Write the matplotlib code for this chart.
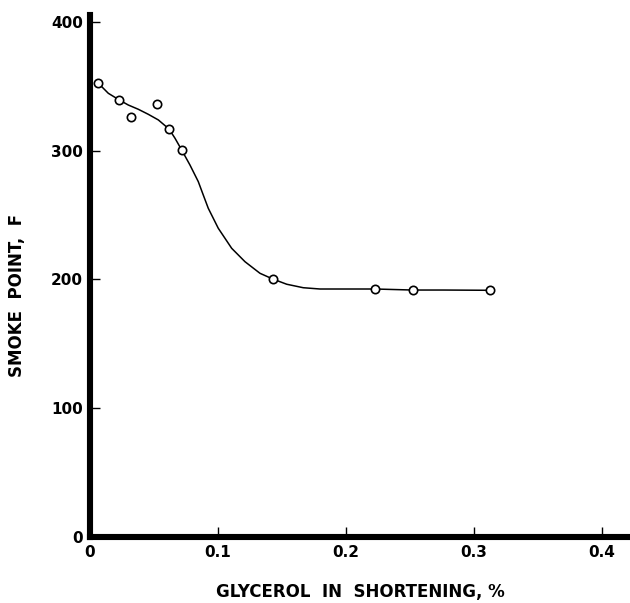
import matplotlib
matplotlib.use("Agg")
import matplotlib.pyplot as plt

# measured points (glycerol %, smoke point F)
glycerol = [0.0065, 0.0229, 0.032, 0.0526, 0.0617, 0.0716, 0.1427, 0.2227, 0.2521, 0.3125]
smoke_point = [352.4, 339.4, 326.5, 336.1, 316.9, 300.6, 200.4, 192.6, 191.8, 191.6]

# hand drawn curve through the points
curve_x = [0.0065, 0.0143, 0.0229, 0.0299, 0.0377, 0.0455, 0.0534, 0.0617, 0.0664,
           0.0716, 0.0781, 0.0846, 0.0885, 0.0924, 0.1002, 0.1107, 0.1211, 0.1328,
           0.1427, 0.1537, 0.1666, 0.1797, 0.1979, 0.2227, 0.2521, 0.276, 0.3125]
curve_y = [352.4, 344.6, 339.4, 335.5, 332.2, 328.3, 323.9, 316.9, 309.7,
           300.6, 288.9, 276.0, 265.6, 255.3, 239.8, 224.2, 213.8, 204.8,
           200.4, 196.3, 193.6, 192.6, 192.6, 192.6, 191.8, 191.8, 191.6]

x_ticks = [0, 0.1, 0.2, 0.3, 0.4]
x_tick_labels = ["0", "0.1", "0.2", "0.3", "0.4"]
y_ticks = [0, 100, 200, 300, 400]
y_tick_labels = ["0", "100", "200", "300", "400"]

plt.rcParams['font.family'] = ['DejaVu Sans']

fig = plt.figure(figsize=(6.3, 6.03), dpi=100)
ax = fig.add_axes([90 / 630, 66 / 603, 540 / 630, 522 / 603])

# curve first, open circles on top
ax.plot(curve_x, curve_y, color='black', linewidth=1.1, zorder=2)
ax.plot(glycerol, smoke_point, linestyle='none', marker='o', markersize=6,
        markerfacecolor='white', markeredgecolor='black', markeredgewidth=1.2, zorder=3)

ax.set_xlim(0, 0.4219)
ax.set_ylim(0, 405.4)

# only the thick left and bottom axes
for side in ('top', 'right'):
    ax.spines[side].set_visible(False)
for side in ('left', 'bottom'):
    ax.spines[side].set_linewidth(4.4)
    ax.spines[side].set_capstyle('projecting')

ax.set_xticks(x_ticks)
ax.set_xticklabels(x_tick_labels)
ax.set_yticks(y_ticks)
ax.set_yticklabels(y_tick_labels)
ax.tick_params(axis='both', direction='in', width=1, length=7, labelsize=11, color='black')
ax.tick_params(axis='x', pad=6)
ax.tick_params(axis='y', pad=5)
for lab in ax.get_xticklabels() + ax.get_yticklabels():
    lab.set_fontweight('bold')

ax.set_xlabel("GLYCEROL  IN  SHORTENING, %", fontsize=12, fontweight='bold', labelpad=16)
ax.set_ylabel("SMOKE  POINT,  F", fontsize=12, fontweight='bold')
# label sits a bit below the middle of the axis in the original
ax.yaxis.set_label_coords(-0.118, 0.462)

fig.savefig("out.png", dpi=100)
